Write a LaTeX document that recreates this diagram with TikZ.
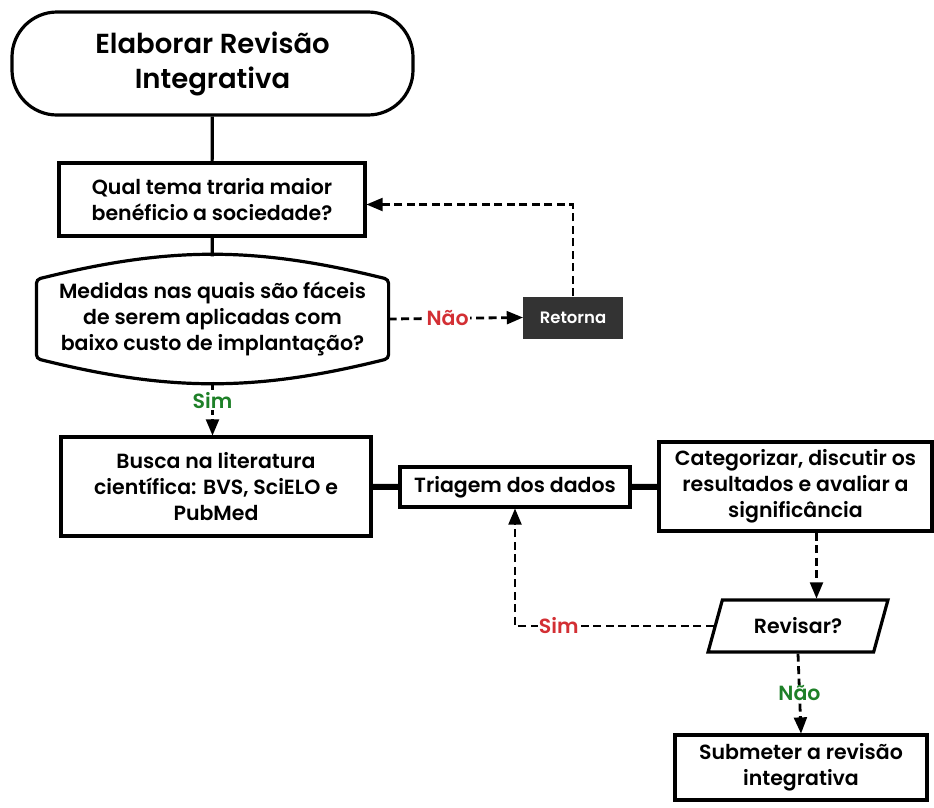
\documentclass[tikz,border=0pt]{standalone}
\usepackage{fontspec}
\setmainfont{Poppins}[UprightFont=* SemiBold, BoldFont=* Bold]
\usepackage{tikz}
\usetikzlibrary{shapes}
\usetikzlibrary{arrows}
\usetikzlibrary{calc}
\definecolor{naored}{RGB}{211,47,52}
\definecolor{simgreen}{RGB}{30,128,40}
\definecolor{retornafill}{RGB}{51,51,51}
\tikzstyle{box} = [rectangle,draw=black,line width=3.2pt,align=center,
inner sep=1pt, font=\fontsize{20.5}{26}\selectfont]
\tikzstyle{terminal} = [box,rounded corners=45pt,
font=\fontsize{27.5}{35}\selectfont]
\tikzstyle{hidden} = [box,draw=none]
\tikzstyle{io} = [box,trapezium,trapezium left angle=65,
trapezium right angle=115,trapezium stretches=true]
\tikzstyle{dark} = [rectangle,fill=retornafill,text=white,
font=\fontsize{16.5}{16.5}\selectfont]
\tikzstyle{link} = [line width=3.2pt]
\tikzstyle{thicklink} = [line width=6pt]
\tikzstyle{dlink} = [->,line width=2.8pt,dash pattern=on 8pt off 4.5pt]
\tikzstyle{answer} = [fill=white,inner sep=1pt,
font=\fontsize{20.5}{20.5}\selectfont]

\begin{document}
\begin{tikzpicture}[x=1pt,y=-1pt,>={triangle 45}]
  \useasboundingbox (0,0) rectangle (934,807);
  \node[terminal,minimum width=401pt,minimum height=103pt](inicio) at (212.5,63.5) {Elaborar Revisão\\Integrativa};
  \node[box,minimum width=306pt,minimum height=73pt](tema) at (212,199.5) {Qual tema traria maior\\benéficio a sociedade?};
  \node[hidden,minimum width=349pt,minimum height=122pt](medidas) at (212.5,319) {Medidas nas quais são fáceis\\de serem aplicadas com\\baixo custo de implantação?};
  \draw[link,rounded corners=4pt] ([yshift=-23pt]medidas.north west) to[bend left=14] ([yshift=-23pt]medidas.north east)
    -- ([yshift=23pt]medidas.south east) to[bend left=14] ([yshift=23pt]medidas.south west) -- cycle;
  \node[dark,minimum width=100pt,minimum height=42pt](retorna) at (573,317.5) {Retorna};
  \node[box,minimum width=310pt,minimum height=99pt](busca) at (216,486.5) {Busca na literatura\\científica: BVS, SciELO e\\PubMed};
  \node[box,minimum width=230pt,minimum height=40pt](triagem) at (515,487) {Triagem dos dados};
  \node[box,minimum width=273pt,minimum height=89pt](categ) at (795.5,486.5) {Categorizar, discutir os\\resultados e avaliar a\\significância};
  \node[io,minimum width=180pt,minimum height=52pt](revisar) at (798,626) {Revisar?};
  \node[box,minimum width=252pt,minimum height=65pt](submeter) at (801,767.5) {Submeter a revisão\\integrativa};
  % ligacoes
  \draw[link] (inicio) -- (tema);
  \draw[link] (tema) -- (medidas);
  \draw[dlink] (medidas.east) -- node[answer,text=naored,pos=0.44]{Não} (retorna.west);
  \draw[dlink] (retorna.north) |- ([yshift=-5pt]tema.east);
  \draw[dlink] (medidas.south) -- node[answer,text=simgreen,pos=0.36]{Sim} (medidas.south |- busca.north);
  \draw[thicklink] (busca) -- (triagem);
  \draw[thicklink] (triagem) -- (categ);
  \draw[dlink] ([xshift=21pt]categ.south) -- ([xshift=21pt]categ.south |- revisar.north);
  \draw[dlink] (revisar.west) -| node[answer,text=naored,pos=0.39]{Sim} (triagem.south);
  \draw[dlink] (revisar.south) -- node[answer,text=simgreen]{Não} (submeter.north);
\end{tikzpicture}
\end{document}
